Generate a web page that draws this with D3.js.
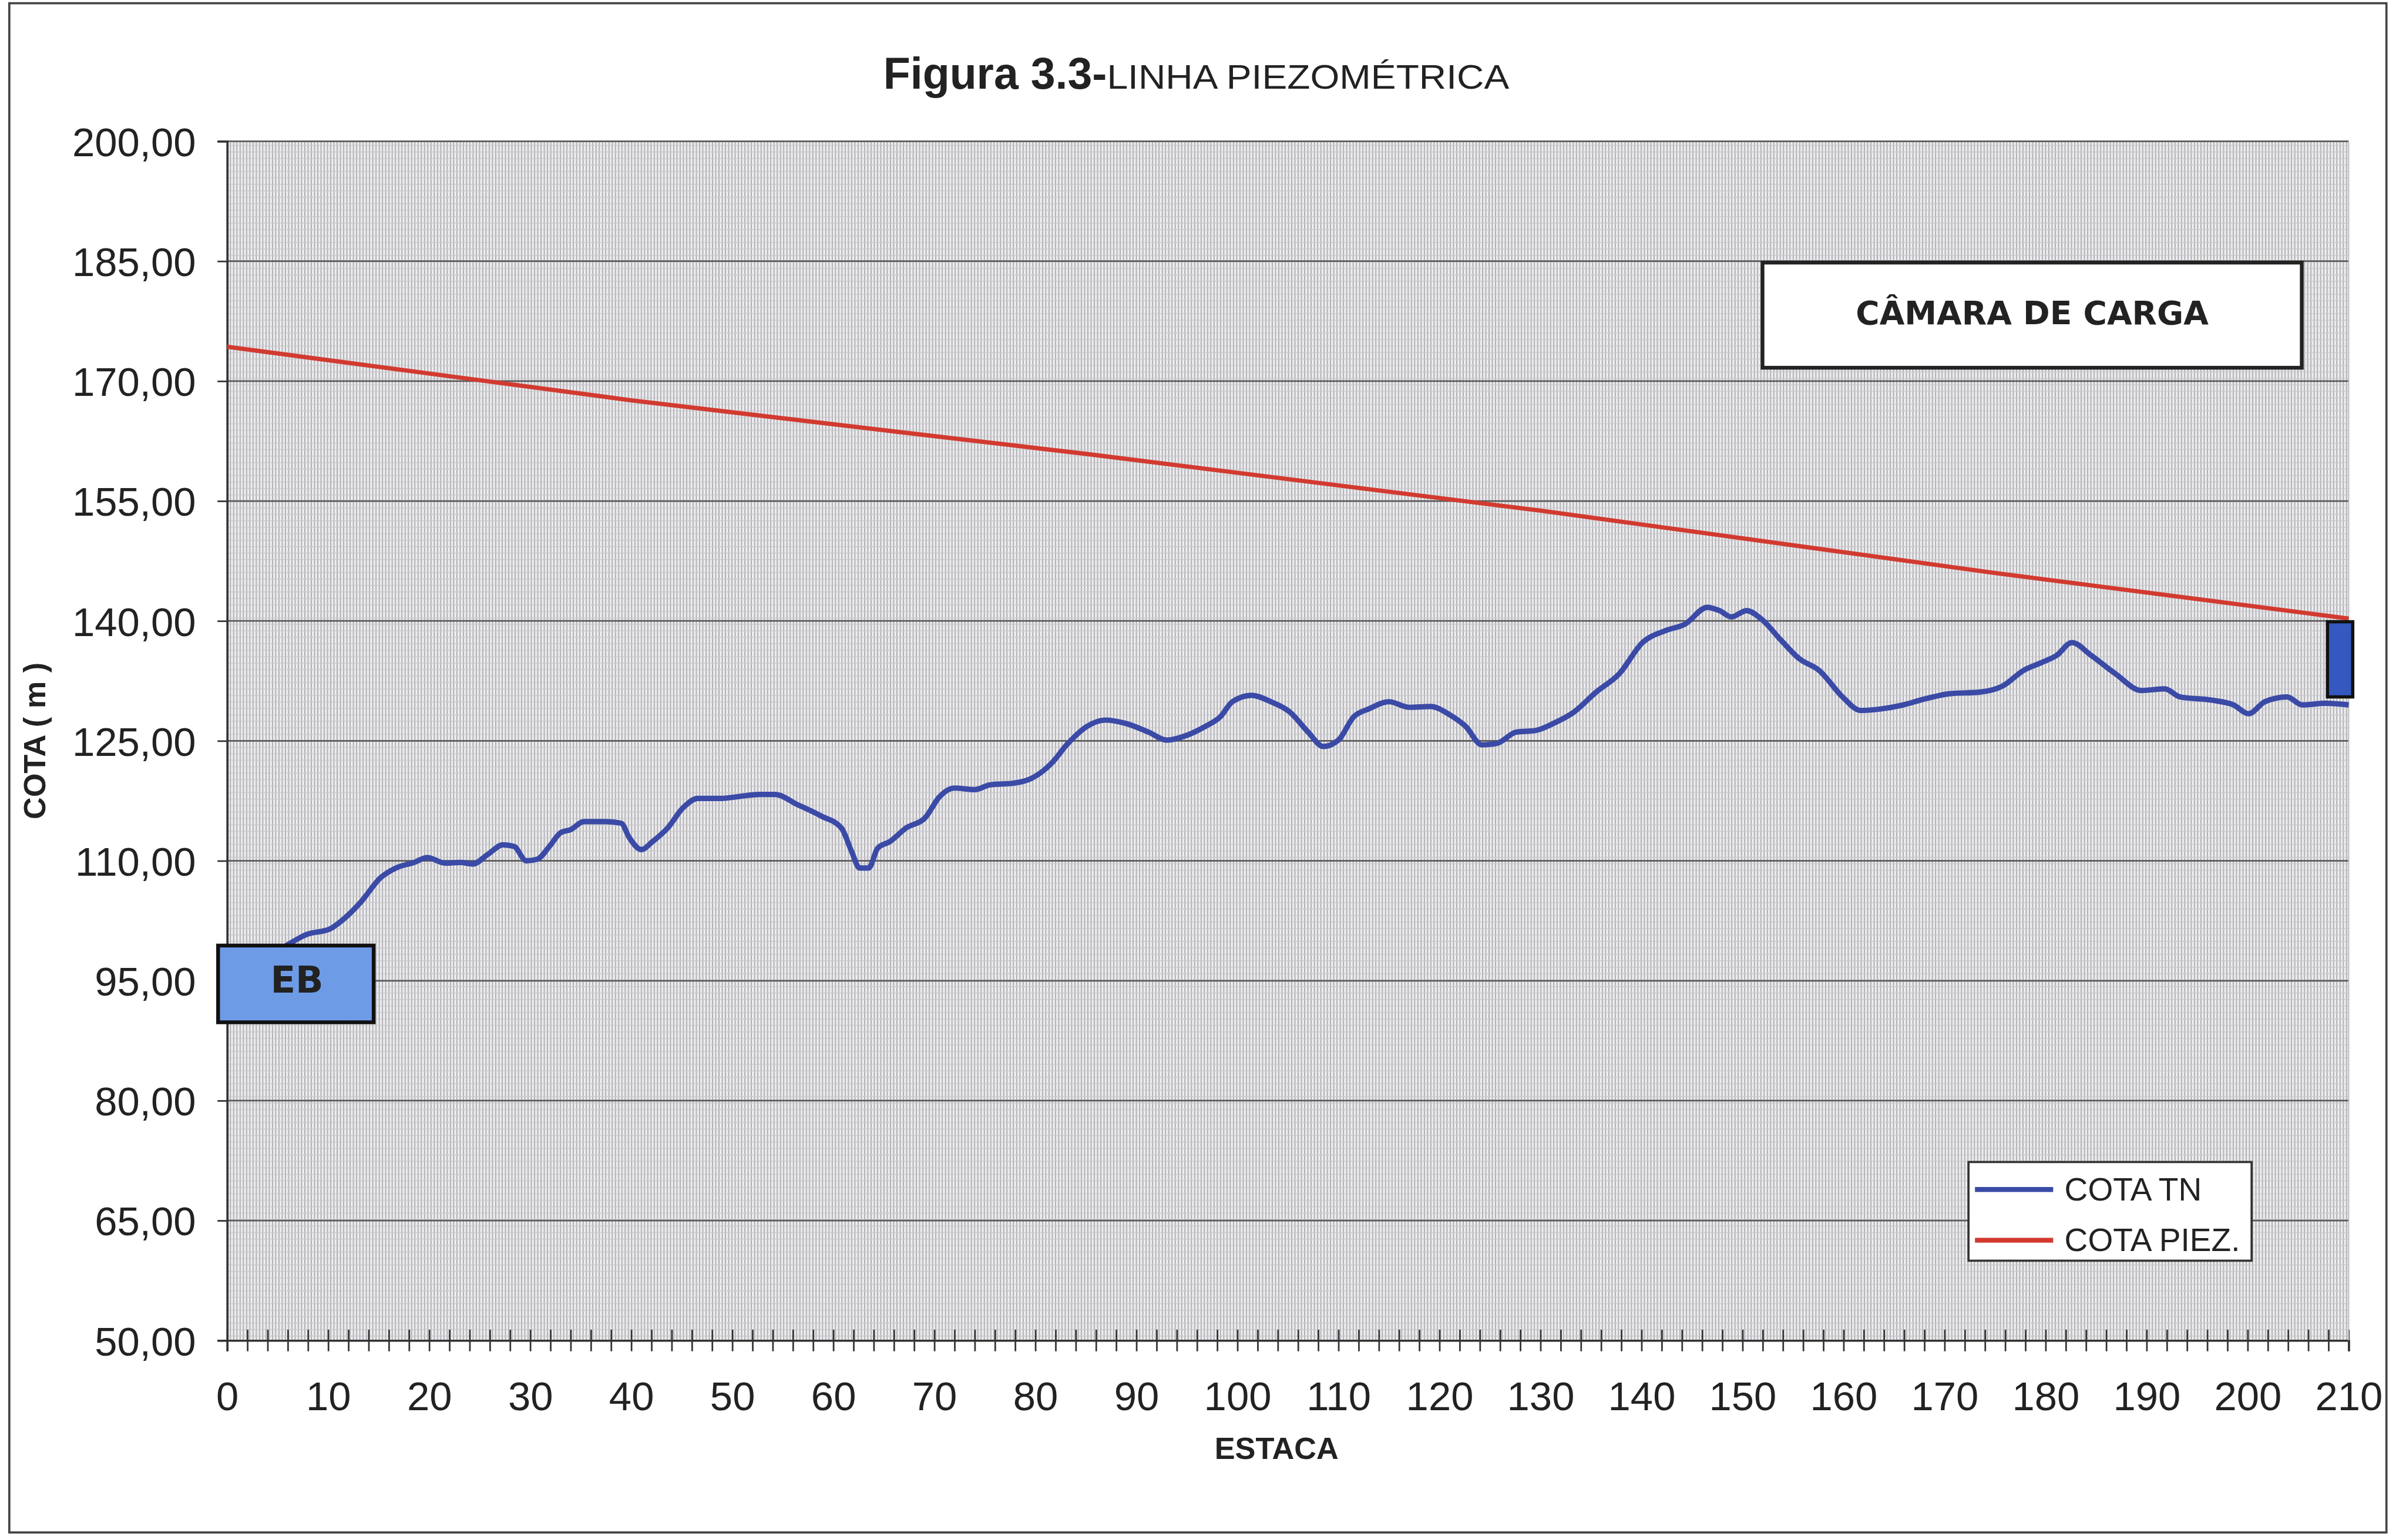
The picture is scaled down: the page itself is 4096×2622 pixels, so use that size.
<!DOCTYPE html>
<html>
<head>
<meta charset="utf-8">
<script src="https://cdn.jsdelivr.net/npm/d3@7"></script>
<style>
  body { margin: 0; background: #fff; }
  svg { display: block; }
  text { font-family: "Liberation Sans", Arial, sans-serif; fill: #222; }
</style>
</head>
<body>
<svg id="chart"></svg>
<script>
/* Linha piezometrica - cota do terreno x cota piezometrica */

const estacaTN = [5.6, 7.9, 10.2, 11.7, 13.2, 15.2, 16.7, 18.5, 19.8, 21.6, 23.1, 24.3, 25.8, 27.3, 28.4, 29.6,
  30.7, 31.9, 33.0, 34.0, 35.3, 37.5, 39.0, 39.8, 41.0, 42.1, 43.6, 45.1, 46.6, 48.9, 50.4, 52.7, 54.2, 56.5,
  58.8, 60.8, 61.8, 62.6, 63.5, 64.4, 65.6, 67.2, 69.1, 70.5, 72.0, 74.0, 75.5, 77.8, 79.6, 81.6, 83.1, 85.1,
  86.9, 88.9, 91.2, 93.0, 95.0, 96.8, 98.3, 99.5, 101.4, 103.3, 105.2, 107.0, 108.5, 110.0, 111.5, 113.0,
  115.0, 117.0, 119.1, 121.1, 122.6, 124.2, 125.7, 127.6, 129.5, 131.3, 133.3, 135.5, 137.8, 140.1, 142.4,
  144.3, 146.5, 147.7, 148.9, 150.4, 151.9, 153.8, 155.6, 157.6, 159.9, 161.7, 163.7, 165.9, 168.2, 170.5,
  173.5, 175.8, 177.8, 179.6, 181.1, 182.6, 184.5, 186.9, 189.5, 191.8, 193.3, 196.4, 198.6, 200.1, 201.7,
  203.9, 205.4, 207.7, 210.0];
const cotaTN = [99.2, 100.8, 101.5, 102.9, 104.8, 107.9, 109.1, 109.8, 110.4, 109.7, 109.8, 109.6, 110.8, 112.0,
  111.8, 110.0, 110.2, 111.8, 113.5, 113.9, 114.9, 114.9, 114.7, 112.9, 111.4, 112.4, 114.1, 116.6, 117.8,
  117.8, 118.0, 118.3, 118.3, 117.0, 115.6, 114.1, 111.2, 109.1, 109.1, 111.6, 112.4, 114.1, 115.4, 118.0,
  119.1, 118.9, 119.5, 119.7, 120.3, 122.2, 124.5, 126.8, 127.6, 127.2, 126.1, 125.1, 125.7, 126.8, 128.0,
  129.9, 130.7, 129.9, 128.6, 126.1, 124.3, 125.1, 128.0, 129.0, 129.9, 129.2, 129.3, 128.2, 126.8, 124.5,
  124.7, 126.1, 126.3, 127.2, 128.6, 131.1, 133.4, 137.3, 138.8, 139.6, 141.7, 141.3, 140.5, 141.3, 140.2,
  137.6, 135.3, 133.8, 130.5, 128.8, 129.0, 129.5, 130.3, 130.9, 131.1, 131.9, 133.8, 134.8, 135.7, 137.3,
  135.7, 133.4, 131.3, 131.5, 130.5, 130.1, 129.5, 128.4, 129.9, 130.5, 129.5, 129.7, 129.5];

const estacaPiez = [0, 40, 85, 130, 175, 210];
const cotaPiez = [174.3, 167.6, 160.9, 153.8, 146.0, 140.3];

const yTicks = [50, 65, 80, 95, 110, 125, 140, 155, 170, 185, 200];
const xLabels = [0, 10, 20, 30, 40, 50, 60, 70, 80, 90, 100, 110, 120, 130, 140, 150, 160, 170, 180, 190, 200, 210];

const seriesNames = ['COTA TN', 'COTA PIEZ.'];
const seriesColors = ['#3a4aa6', '#d23a30'];

// reference drawing size, scaled down by the viewBox
const W = 4461, H = 2856;
const plot = { left: 421, right: 4355, top: 262, bottom: 2486 };

const svg = d3.select('#chart')
  .attr('width', 4096).attr('height', 2622)
  .attr('viewBox', [0, 0, W, H]);

const x = d3.scaleLinear().domain([0, 210]).range([plot.left, plot.right]);
const y = d3.scaleLinear().domain([50, 200]).range([plot.bottom, plot.top]);
const fmt = v => d3.format('.2f')(v).replace('.', ',');

// outer frame
svg.append('rect').attr('x', 17).attr('y', 6).attr('width', 4408).attr('height', 2836)
  .attr('fill', 'none').attr('stroke', '#444').attr('stroke-width', 4);

// hatched plot background
const defs = svg.append('defs');
const pat = defs.append('pattern').attr('id', 'hatch').attr('patternUnits', 'userSpaceOnUse')
  .attr('width', 6).attr('height', 12);
pat.append('rect').attr('width', 6).attr('height', 12).attr('fill', '#ececee');
pat.append('rect').attr('x', 0).attr('width', 2).attr('height', 12).attr('fill', '#adadb2');
pat.append('rect').attr('y', 5).attr('width', 6).attr('height', 1.5).attr('fill', '#c8c8cc');

svg.append('rect')
  .attr('x', plot.left).attr('y', plot.top)
  .attr('width', plot.right - plot.left).attr('height', plot.bottom - plot.top)
  .attr('fill', 'url(#hatch)');

// horizontal grid
svg.append('g').selectAll('line').data(yTicks.filter(d => d > 50)).join('line')
  .attr('x1', plot.left).attr('x2', plot.right)
  .attr('y1', d => y(d)).attr('y2', d => y(d))
  .attr('stroke', '#5a5a5a').attr('stroke-width', 3);

// y axis
const yAxis = svg.append('g').attr('transform', `translate(${plot.left},0)`)
  .call(d3.axisLeft(y).tickValues(yTicks).tickFormat(fmt).tickSize(18).tickPadding(40));
yAxis.select('.domain').attr('stroke', '#333').attr('stroke-width', 4);
yAxis.selectAll('.tick line').attr('stroke', '#333').attr('stroke-width', 3);
yAxis.selectAll('.tick text')
  .attr('font-size', 75).attr('fill', '#222').attr('dy', '0.36em')
  .style('font-family', '"Liberation Sans", Arial, sans-serif');

// x axis, ticks every 2 crossing the axis line
const xAxis = svg.append('g').attr('transform', `translate(0,${plot.bottom})`)
  .call(d3.axisBottom(x).tickValues(d3.range(0, 211, 2))
    .tickFormat(d => xLabels.includes(d) ? d : '').tickSize(20).tickPadding(56));
xAxis.select('.domain').attr('stroke', '#333').attr('stroke-width', 4);
xAxis.selectAll('.tick line').attr('y1', -20).attr('stroke', '#333').attr('stroke-width', 3);
xAxis.selectAll('.tick text')
  .attr('font-size', 75).attr('fill', '#222')
  .style('font-family', '"Liberation Sans", Arial, sans-serif');

// right edge of plot
svg.append('line').attr('x1', plot.right).attr('x2', plot.right)
  .attr('y1', plot.top).attr('y2', plot.bottom)
  .attr('stroke', '#bbb').attr('stroke-width', 2);

// series lines
const line = d3.line().x(d => x(d[0])).y(d => y(d[1])).curve(d3.curveMonotoneX);
svg.append('path').datum(d3.zip(estacaPiez, cotaPiez))
  .attr('d', line).attr('fill', 'none')
  .attr('stroke', seriesColors[1]).attr('stroke-width', 8);
svg.append('path').datum(d3.zip(estacaTN, cotaTN))
  .attr('d', line).attr('fill', 'none')
  .attr('stroke', seriesColors[0]).attr('stroke-width', 10).attr('stroke-linejoin', 'round');

// EB box
svg.append('rect')
  .attr('x', x(-0.9)).attr('y', y(99.4))
  .attr('width', x(14.5) - x(-0.9)).attr('height', y(89.8) - y(99.4))
  .attr('fill', '#6d9be6').attr('stroke', '#111').attr('stroke-width', 7);
svg.append('text')
  .attr('x', (x(-0.9) + x(14.5)) / 2 + 2).attr('y', y(95.2))
  .attr('dy', '0.36em').attr('text-anchor', 'middle')
  .attr('font-size', 68).attr('font-weight', 'bold').attr('fill', '#111')
  .style('font-family', '"DejaVu Sans", sans-serif')
  .text('EB');

// camara de carga at the end of the line
svg.append('rect')
  .attr('x', x(207.9)).attr('y', y(139.9))
  .attr('width', x(210.4) - x(207.9)).attr('height', y(130.5) - y(139.9))
  .attr('fill', '#3557c0').attr('stroke', '#111').attr('stroke-width', 6);

// CAMARA DE CARGA label box
svg.append('rect')
  .attr('x', 3268).attr('y', 487).attr('width', 1000).attr('height', 195)
  .attr('fill', '#fff').attr('stroke', '#222').attr('stroke-width', 7);
svg.append('text')
  .attr('x', 3768).attr('y', 580).attr('dy', '0.36em').attr('text-anchor', 'middle')
  .attr('font-size', 60).attr('font-weight', 'bold').attr('fill', '#222')
  .style('font-family', '"DejaVu Sans", sans-serif')
  .text('CÂMARA DE CARGA');

// legend
const lg = svg.append('g').attr('transform', 'translate(3650,2155)');
lg.append('rect').attr('width', 525).attr('height', 183)
  .attr('fill', '#fff').attr('stroke', '#333').attr('stroke-width', 4);
seriesNames.forEach((name, i) => {
  const cy = 51 + i * 94;
  lg.append('line').attr('x1', 12).attr('x2', 157).attr('y1', cy).attr('y2', cy)
    .attr('stroke', seriesColors[i]).attr('stroke-width', 9);
  lg.append('text').attr('x', 178).attr('y', cy + 20)
    .attr('font-size', 60).attr('fill', '#222').text(name);
});

// title
const title = svg.append('text').attr('x', 2218).attr('y', 165).attr('text-anchor', 'middle')
  .attr('font-weight', 'bold').attr('fill', '#2a2a2a');
title.append('tspan').attr('font-size', 82).text('Figura 3.3-');
title.append('tspan').attr('font-size', 62).attr('font-weight', 'normal')
  .attr('textLength', 746).attr('lengthAdjust', 'spacingAndGlyphs')
  .text('LINHA PIEZOMÉTRICA');

// axis titles
svg.append('text').attr('x', 2367).attr('y', 2706).attr('text-anchor', 'middle')
  .attr('font-size', 57).attr('font-weight', 'bold').text('ESTACA');
svg.append('text').attr('transform', 'translate(84,1374) rotate(-90)').attr('text-anchor', 'middle')
  .attr('font-size', 57).attr('font-weight', 'bold').text('COTA ( m )');
</script>
</body>
</html>
